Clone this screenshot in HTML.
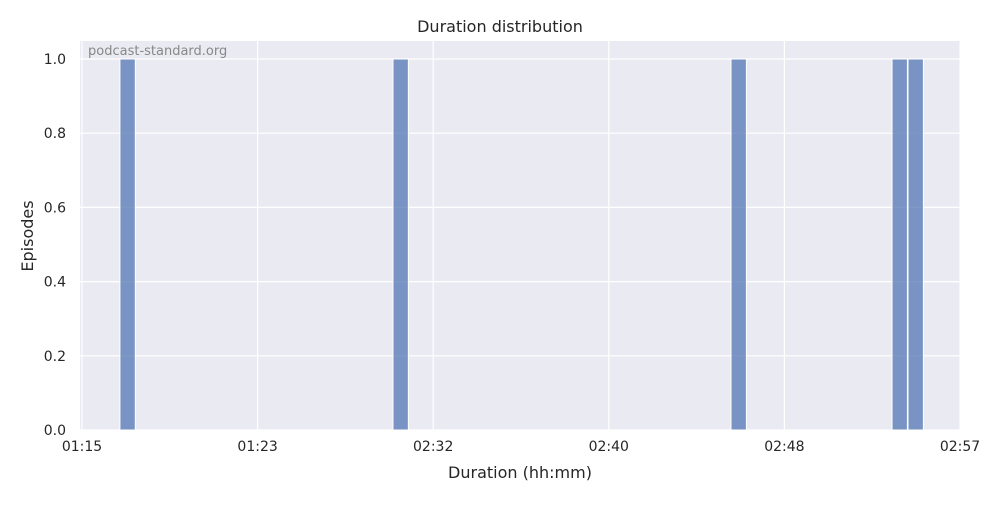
<!DOCTYPE html>
<html><head><meta charset="utf-8"><style>
body{margin:0;background:#fff;font-family:"Liberation Sans","DejaVu Sans",sans-serif}
svg text{font-family:"DejaVu Sans","Liberation Sans",sans-serif}
</style></head><body>
<svg id="c" width="1000" height="500">
<rect x="80" y="41" width="880" height="389" fill="#eaeaf2"/>
<g id="grid"></g><g id="bars"></g><g id="ticks"></g>
<text x="500" y="32" text-anchor="middle" font-size="16" fill="#262626">Duration distribution</text>
<text x="520" y="478" text-anchor="middle" font-size="16" fill="#262626">Duration (hh:mm)</text>
<text x="33" y="236" text-anchor="middle" font-size="16" fill="#262626" transform="rotate(-90 33 236)">Episodes</text>
<text x="88" y="55" font-size="13" fill="#888">podcast-standard.org</text>
</svg>
<script>
const xTickLabels=["01:15","01:23","02:32","02:40","02:48","02:57"];
const yTicks=[0,0.2,0.4,0.6,0.8,1.0];
const binStarts=[0.216,1.771,3.696,4.613,4.704];
const counts=[1,1,1,1,1];
const binWidth=0.0875;
const X0=82,X1=960,Y0=430,Y1=59;
const xs=v=>X0+(X1-X0)*v/5;
const ys=v=>Y0-(Y0-Y1)*v;
const NS="http://www.w3.org/2000/svg";
const g=document.getElementById('grid'),b=document.getElementById('bars'),t=document.getElementById('ticks');
function mk(tag,attrs,parent){const e=document.createElementNS(NS,tag);for(const k in attrs)e.setAttribute(k,attrs[k]);parent.appendChild(e);return e;}
xTickLabels.forEach((l,i)=>{
 const ln=mk('line',{x1:xs(i),x2:xs(i),y1:41,y2:430,stroke:'#fff','stroke-width':1.2},g);
 
 
 const tx=mk('text',{x:xs(i),y:451,'text-anchor':'middle','font-size':14,fill:'#262626'},t);
 tx.textContent=l;
 
 
});
yTicks.forEach(v=>{
 const ln=mk('line',{x1:80,x2:960,y1:ys(v),y2:ys(v),stroke:'#fff','stroke-width':1.2},g);
 
 
 const tx=mk('text',{x:66,y:ys(v)+5,'text-anchor':'end','font-size':14,fill:'#262626'},t);
 tx.textContent=v.toFixed(1);
 
 
});
binStarts.forEach((s,i)=>{
 const x=xs(s),w=xs(s+binWidth)-x;
 const r=mk('rect',{x:x,y:ys(counts[i]),width:w,height:Y0-ys(counts[i]),fill:'#5377b4','fill-opacity':0.75,stroke:'#fff','stroke-width':1},b);
 
 
});
</script>
</body></html>
